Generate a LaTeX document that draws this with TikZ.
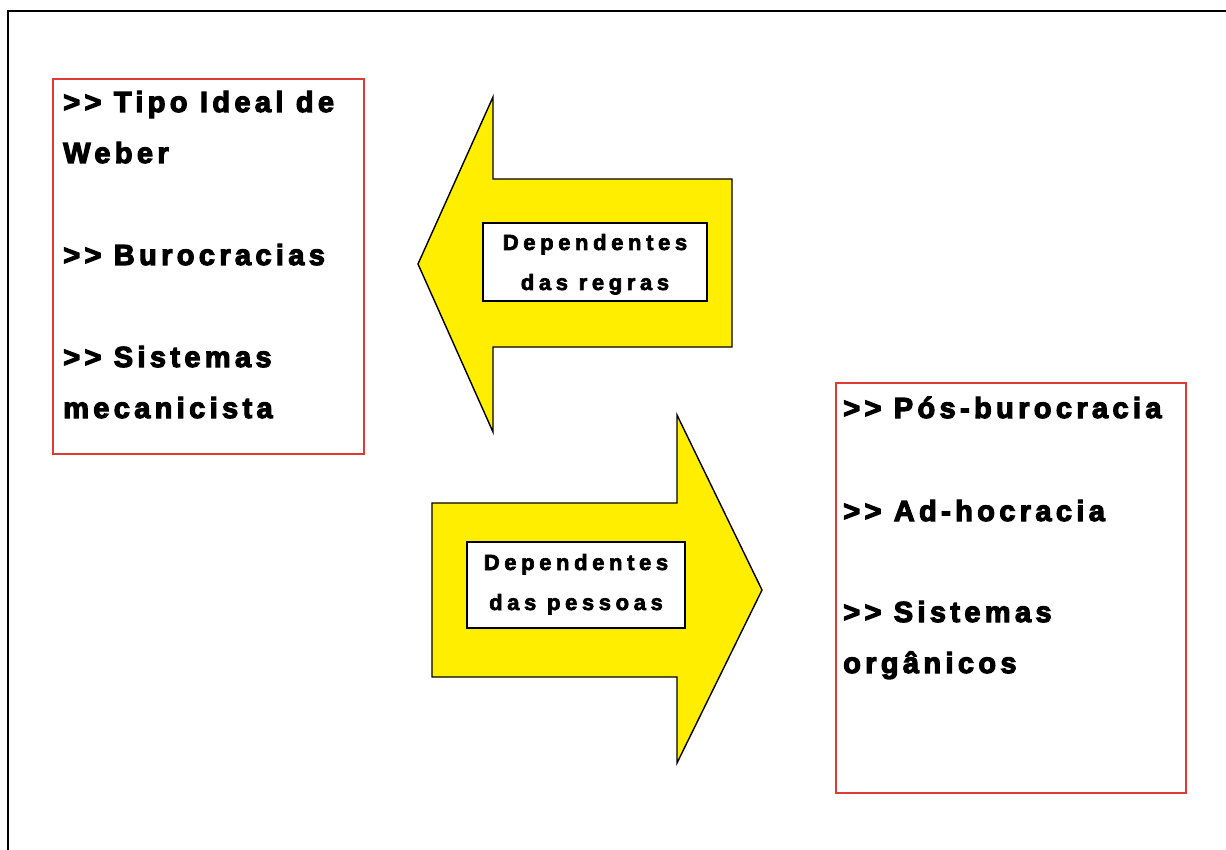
\documentclass[tikz,border=0pt]{standalone}
\usepackage{fontspec}
\newfontfamily\heavy[LetterSpace=15,FakeBold=4]{Liberation Sans}
\newfontfamily\heavysmall[LetterSpace=21,FakeBold=3]{Liberation Sans}
\definecolor{arrowyellow}{HTML}{FFEE00}
\definecolor{boxred}{HTML}{E03A35}
\begin{document}
\begin{tikzpicture}[x=1pt,y=-1pt,
  redbox/.style={draw=boxred,line width=1.6pt,minimum width=#1,inner sep=0pt},
  bigarrow/.style={draw=black,line width=1.4pt,fill=arrowyellow,line join=miter},
  labelbox/.style={draw=black,line width=1.2pt,fill=white,inner sep=0pt},
  smalltext/.style={anchor=base,inner sep=0pt,font=\heavysmall\bfseries\fontsize{22}{40}\selectfont},
  bigtext/.style={anchor=base west,inner sep=0pt,font=\heavy\bfseries\fontsize{29}{51}\selectfont}]
\useasboundingbox (0,0) rectangle (1226,850);
\clip (0,0) rectangle (1226,850);
\fill[white] (0,0) rectangle (1226,850);
\draw[line width=2.5pt] (8,11) rectangle (1240,870);
% red boxes
\node[redbox=311pt,minimum height=375pt] (left) at (208.5,266.5) {};
\node[redbox=350pt,minimum height=410pt] (right) at (1011,588) {};
% arrows
\draw[bigarrow] (418,264) -- (493,97) -- (493,179) -- (732,179) -- (732,347) -- (493,347) -- (493,432) -- cycle;
\draw[bigarrow] (762,590) -- (677,415) -- (677,503) -- (432,503) -- (432,677) -- (677,677) -- (677,763) -- cycle;
% label boxes
\node[labelbox,minimum width=224pt,minimum height=78pt] (regras) at (595,262) {};
\node[smalltext] (regras1) at (595,250) {Dependentes};
\node[smalltext] (regras2) at (595,290) {das regras};
\node[labelbox,minimum width=218pt,minimum height=86pt] (pessoas) at (576,585) {};
\node[smalltext] (pessoas1) at (576,570) {Dependentes};
\node[smalltext] (pessoas2) at (576,610) {das pessoas};
% left texts
\node[bigtext] (l1) at (63,112) {>> Tipo Ideal de};
\node[bigtext] (l2) at (63,163) {Weber};
\node[bigtext] (l3) at (63,265) {>> Burocracias};
\node[bigtext] (l4) at (63,367) {>> Sistemas};
\node[bigtext] (l5) at (63,418) {mecanicista};
% right texts
\node[bigtext] (r1) at (843,418) {>> Pós-burocracia};
\node[bigtext] (r2) at (843,521) {>> Ad-hocracia};
\node[bigtext] (r3) at (843,622) {>> Sistemas};
\node[bigtext] (r4) at (843,673) {orgânicos};
\end{tikzpicture}
\end{document}
